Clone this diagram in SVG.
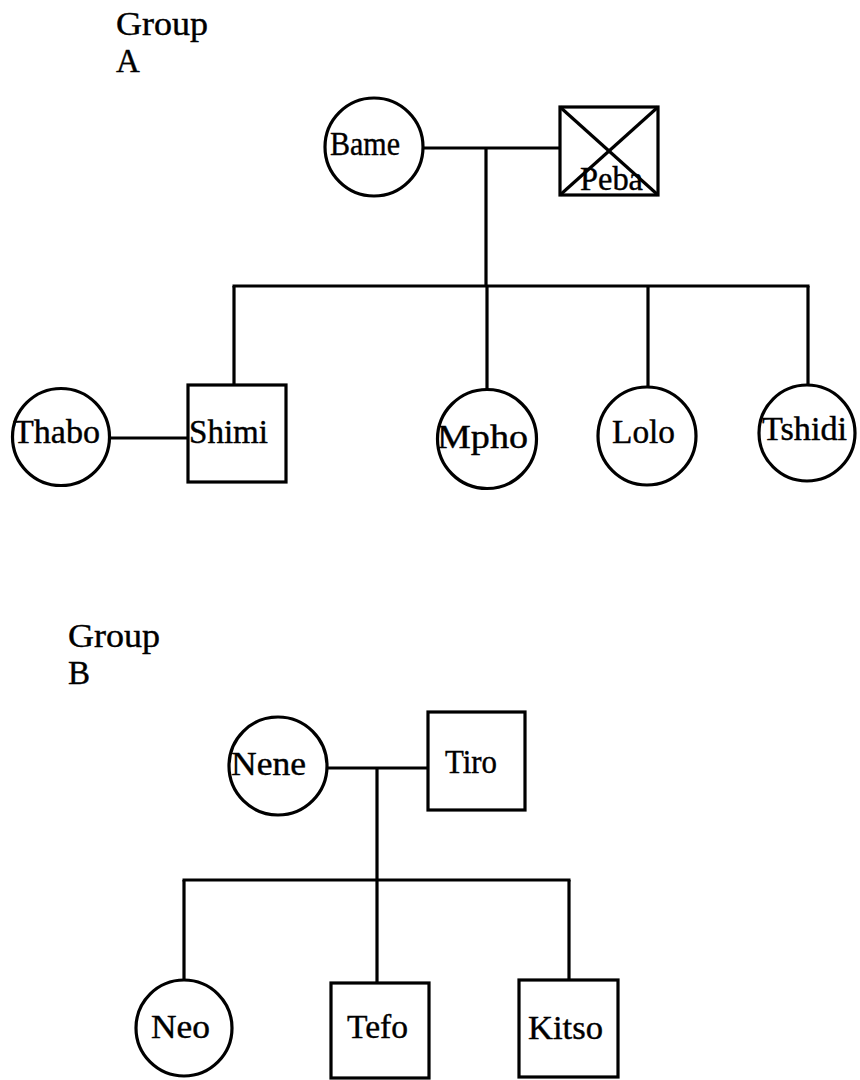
<svg xmlns="http://www.w3.org/2000/svg" width="860" height="1080" viewBox="0 0 860 1080">
<style>
.s{fill:#fff;stroke:#000;stroke-width:3.2}
.c line{stroke:#000;stroke-width:3.2}
text{font-family:"Liberation Serif","Times New Roman",serif;font-size:33px;fill:#000;stroke:#000;stroke-width:0.4}
</style>
<rect width="860" height="1080" fill="#fff"/>
<g id="label-a"><text x="116" y="35" textLength="92" lengthAdjust="spacingAndGlyphs">Group</text><text x="116" y="72">A</text></g>
<g id="label-b"><text x="68" y="647" textLength="92" lengthAdjust="spacingAndGlyphs">Group</text><text x="68" y="684">B</text></g>
<g class="c" id="connectors">
<line x1="423" y1="148" x2="560" y2="148"/>
<line x1="486" y1="148" x2="486" y2="286"/>
<line x1="232.5" y1="286" x2="809.5" y2="286"/>
<line x1="234" y1="286" x2="234" y2="385"/>
<line x1="487" y1="286" x2="487" y2="390"/>
<line x1="648" y1="286" x2="648" y2="387"/>
<line x1="808" y1="286" x2="808" y2="385"/>
<line x1="110" y1="438" x2="188" y2="438"/>
<line x1="328" y1="768" x2="428" y2="768"/>
<line x1="377" y1="768" x2="377" y2="880"/>
<line x1="182.5" y1="880" x2="570.5" y2="880"/>
<line x1="184" y1="880" x2="184" y2="980"/>
<line x1="377" y1="880" x2="377" y2="983"/>
<line x1="569" y1="880" x2="569" y2="980"/>
</g>
<g id="bame"><circle class="s" cx="374" cy="147" r="49"/><text x="330" y="155" textLength="70" lengthAdjust="spacingAndGlyphs">Bame</text></g>
<g id="peba"><rect class="s" x="560" y="107" width="98" height="88"/><line x1="560" y1="107" x2="658" y2="195" stroke="#000" stroke-width="3.2"/><line x1="658" y1="107" x2="560" y2="195" stroke="#000" stroke-width="3.2"/><text x="580" y="190" textLength="63" lengthAdjust="spacingAndGlyphs">Peba</text></g>
<g id="thabo"><circle class="s" cx="61" cy="437" r="48.5"/><text x="13" y="443" textLength="87" lengthAdjust="spacingAndGlyphs">Thabo</text></g>
<g id="shimi"><rect class="s" x="188" y="385" width="98" height="97"/><text x="189" y="443" textLength="79" lengthAdjust="spacingAndGlyphs">Shimi</text></g>
<g id="mpho"><circle class="s" cx="487" cy="439" r="49.5"/><text x="437" y="448" textLength="91" lengthAdjust="spacingAndGlyphs">Mpho</text></g>
<g id="lolo"><circle class="s" cx="647" cy="436" r="49"/><text x="612" y="443" textLength="63" lengthAdjust="spacingAndGlyphs">Lolo</text></g>
<g id="tshidi"><circle class="s" cx="807" cy="433" r="48"/><text x="762" y="440" textLength="85" lengthAdjust="spacingAndGlyphs">Tshidi</text></g>
<g id="nene"><circle class="s" cx="278" cy="766" r="49"/><text x="231" y="775" textLength="75" lengthAdjust="spacingAndGlyphs">Nene</text></g>
<g id="tiro"><rect class="s" x="428" y="712" width="97" height="98"/><text x="445" y="773" textLength="52" lengthAdjust="spacingAndGlyphs">Tiro</text></g>
<g id="neo"><circle class="s" cx="184" cy="1028" r="48"/><text x="151" y="1038" textLength="59" lengthAdjust="spacingAndGlyphs">Neo</text></g>
<g id="tefo"><rect class="s" x="331" y="983" width="98" height="95"/><text x="347" y="1038" textLength="61" lengthAdjust="spacingAndGlyphs">Tefo</text></g>
<g id="kitso"><rect class="s" x="519" y="980" width="99" height="97"/><text x="528" y="1039" textLength="75" lengthAdjust="spacingAndGlyphs">Kitso</text></g>
</svg>
